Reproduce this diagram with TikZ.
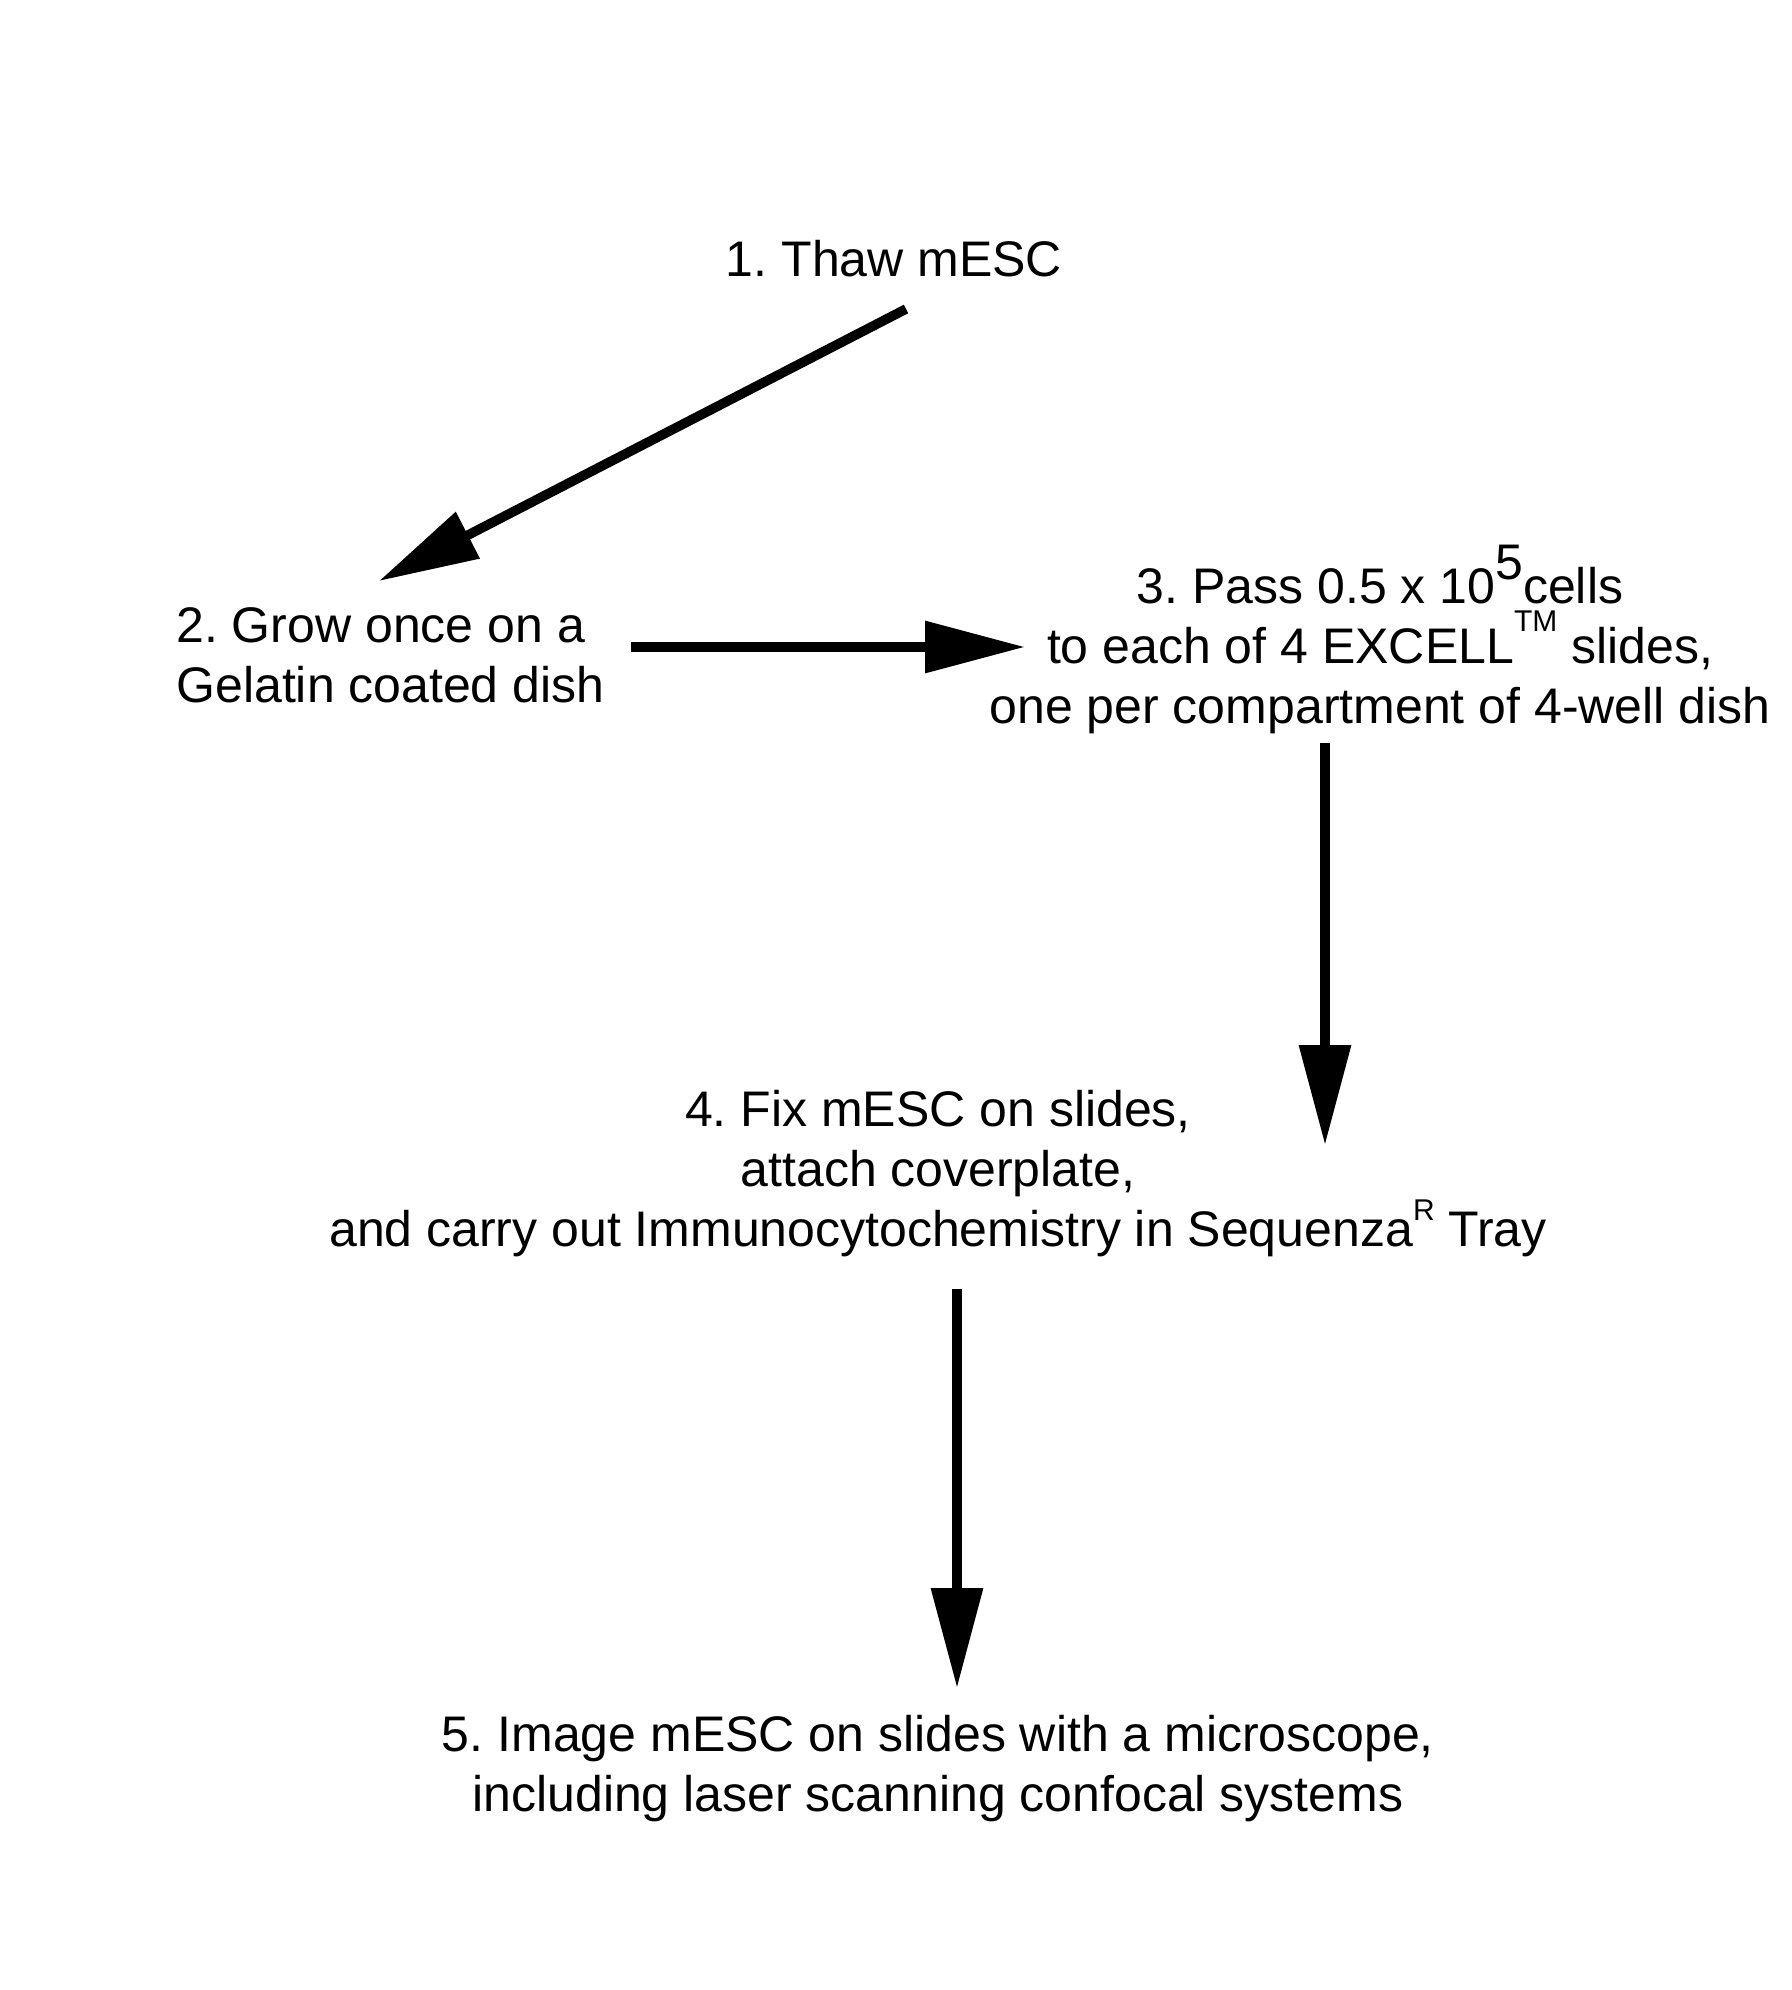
\documentclass[tikz,border=0pt]{standalone}
\usepackage{fontspec}
\setmainfont{Liberation Sans}
\usepackage{tikz}
\usetikzlibrary{arrows.meta, positioning, calc}
\frenchspacing

\begin{document}
\begin{tikzpicture}[
  x=0.5pt, y=-0.5pt,
  every node/.style={font=\fontsize{25}{30}\selectfont},
  stepbox/.style={inner sep=0pt, align=center, anchor=base},
  flow/.style={line width=4.8pt, -{Triangle[length=50pt, width=25pt]}},
]
  \useasboundingbox (0,0) rectangle (1792,1990);

  \node[stepbox] (t1) at (894,277) {1. Thaw mESC};
  \node[stepbox, align=left, anchor=base west] (t2) at (176,702) {2. Grow once on a\\Gelatin coated dish};
  \node[stepbox] (t3) at (1380,723) {3. Pass 0.5 x 10\raisebox{12pt}{5}cells\\
    to each of 4 EXCELL\raisebox{16pt}{\fontsize{15}{15}\selectfont TM} slides,\\
    one per compartment of 4-well dish};
  \node[stepbox] (t4) at (938,1246) {4. Fix mESC on slides,\\attach coverplate,\\
    and carry out Immunocytochemistry in Sequenza\raisebox{13pt}{\fontsize{15}{15}\selectfont R} Tray};
  \node[stepbox] (t5) at (938,1811) {5. Image mESC on slides with a microscope,\\
    including laser scanning confocal systems};

  \draw[flow] ($(t1.base)+(12,32)$) -- ($(t2.base west)+(203,-121)$);
  \draw[flow] ($(t2.base west)+(455,-55)$) -- ($(t3.base)+(-355,-76)$);
  \draw[flow] ($(t3.base)+(-55,20)$) -- ($(t4.base)+(387,-101)$);
  \draw[flow] ($(t4.base)+(19,43)$) -- ($(t5.base)+(19,-123)$);
\end{tikzpicture}
\end{document}
